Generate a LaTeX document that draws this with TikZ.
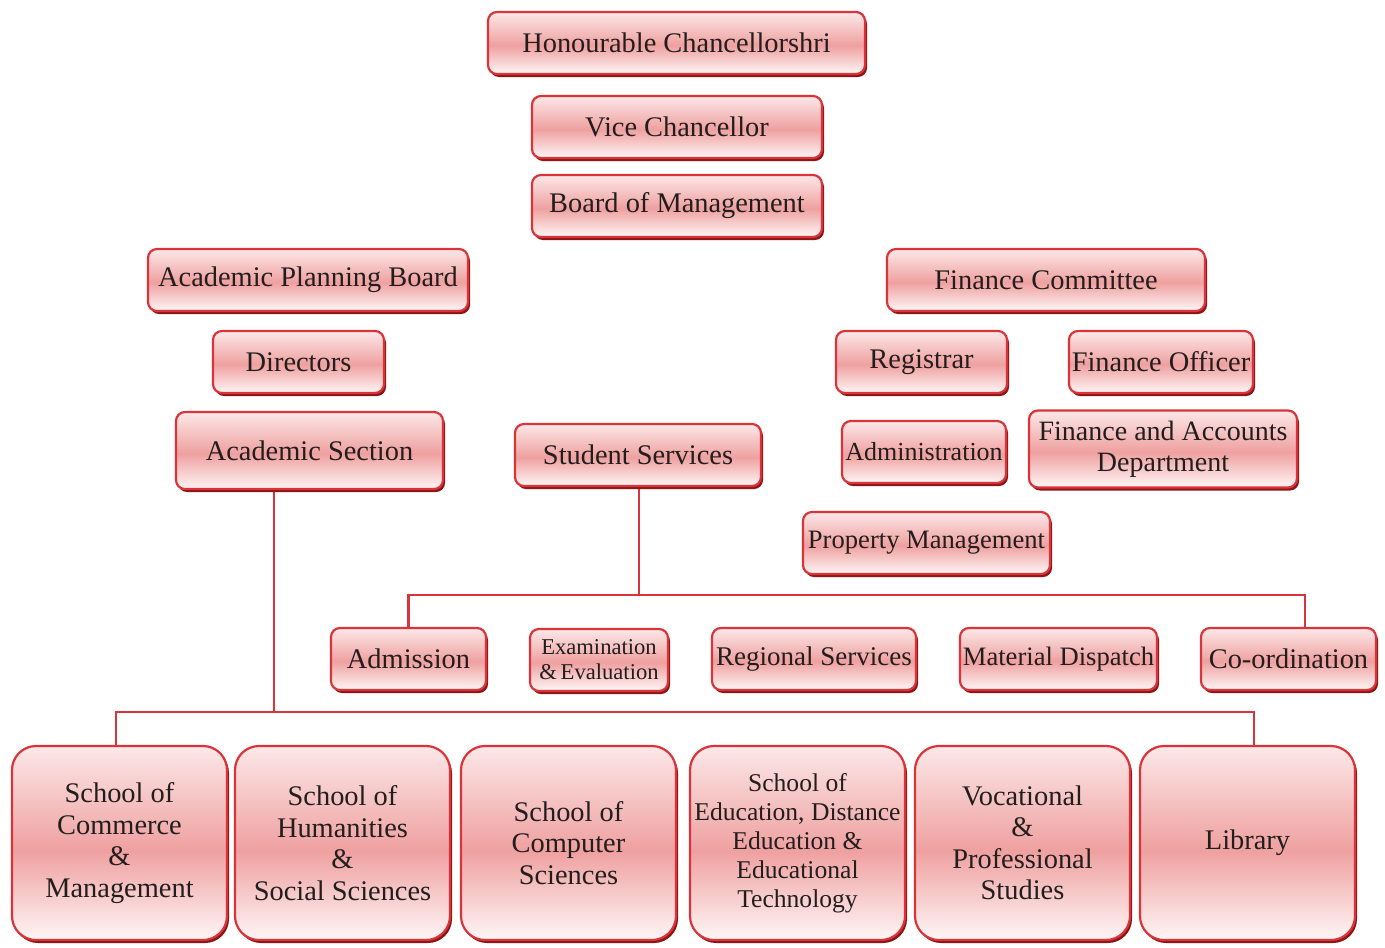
\documentclass[tikz,border=0pt]{standalone}
\usepackage{fontspec}
\setmainfont{Liberation Serif}
\usetikzlibrary{shadows,backgrounds}
\definecolor{boxred}{RGB}{218,52,58}
\definecolor{shadowred}{RGB}{140,22,22}
\definecolor{txt}{RGB}{35,30,30}
\definecolor{shbot}{RGB}{255,246,246}
\definecolor{shmid}{RGB}{239,160,160}
\definecolor{shtop}{RGB}{252,232,232}
\pgfdeclareverticalshading{boxshade}{100bp}{color(0bp)=(shbot); color(25bp)=(shbot); color(48bp)=(shmid); color(75bp)=(shtop); color(100bp)=(shtop)}
\tikzset{
  box/.style={draw=boxred, line width=2.2pt, rounded corners=9pt, shading=boxshade,
    drop shadow={shadow xshift=2pt, shadow yshift=-3pt, fill=shadowred, opacity=1},
    inner sep=0pt, align=center, text=txt, font=\fontsize{28.4}{31.5}\selectfont},
  bigbox/.style={box, rounded corners=24pt, minimum width=215pt, minimum height=194pt},
  conn/.style={draw=boxred, line width=2.4pt}
}
\begin{document}
\begin{tikzpicture}[x=1pt,y=-1pt]
\useasboundingbox (0,0) rectangle (1385,948);
\node[box, minimum width=377pt, minimum height=62pt] (hon) at (676.5,43) {Honourable Chancellorshri};
\node[box, minimum width=290pt, minimum height=62pt] (vc) at (677,127) {Vice Chancellor};
\node[box, minimum width=290pt, minimum height=62pt] (bom) at (677,206) {Board of Management};
\node[box, minimum width=320pt, minimum height=62pt] (apb) at (308,280) {Academic Planning Board};
\node[box, minimum width=318pt, minimum height=62pt] (fc) at (1046,280) {Finance Committee};
\node[box, minimum width=171pt, minimum height=62pt] (dir) at (298.5,362) {Directors};
\node[box, minimum width=171pt, minimum height=62pt] (reg) at (921.5,362) {Registrar};
\node[box, minimum width=184pt, minimum height=62pt] (fo) at (1161,362) {Finance Officer};
\node[box, minimum width=267pt, minimum height=77pt] (acs) at (309.5,450.5) {Academic Section};
\node[box, minimum width=246pt, minimum height=62pt] (ss) at (638,455) {Student Services};
\node[box, minimum width=164pt, minimum height=62pt, font=\fontsize{26}{30}\selectfont] (adm) at (924,452) {Administration};
\node[box, minimum width=268pt, minimum height=77pt, font=\fontsize{28}{31}\selectfont] (fad) at (1163,449) {Finance and Accounts\\Department};
\node[box, minimum width=247pt, minimum height=62pt, font=\fontsize{26.6}{30}\selectfont] (pm) at (926.5,543) {Property Management};
\node[box, minimum width=155pt, minimum height=62pt] (admission) at (408.5,659) {Admission};
\node[box, minimum width=138pt, minimum height=62pt, font=\fontsize{22.6}{25}\selectfont] (exam) at (599,660) {Examination\\\&\,Evaluation};
\node[box, minimum width=204pt, minimum height=62pt, font=\fontsize{27}{30}\selectfont] (rs) at (814,659) {Regional Services};
\node[box, minimum width=197pt, minimum height=62pt, font=\fontsize{26.6}{30}\selectfont] (md) at (1058.5,659) {Material Dispatch};
\node[box, minimum width=175pt, minimum height=62pt] (co) at (1288.5,659) {Co-ordination};
\node[bigbox] (com) at (119.5,843) {School of\\Commerce\\\&\\Management};
\node[bigbox] (hum) at (342.5,843) {School of\\Humanities\\\&\\Social Sciences};
\node[bigbox] (cs) at (568.5,843) {School of\\Computer\\Sciences};
\node[bigbox, font=\fontsize{25.6}{29}\selectfont] (edu) at (797.5,843) {School of\\Education, Distance\\Education \&\\Educational\\Technology};
\node[bigbox] (voc) at (1022.5,843) {Vocational\\\&\\Professional\\Studies};
\node[bigbox] (lib) at (1247.5,843) {Library};
\begin{scope}[on background layer]
  \coordinate (j1) at (639,595);
  \coordinate (j2) at (1305,595);
  \draw[conn] ([xshift=1pt]ss.south) -- ([xshift=1pt]ss.south |- j1);
  \draw[conn] (admission.north) -- (admission.north |- j1) -- (j2) -- ([xshift=16.5pt]co.north);
  \coordinate (k1) at (274,712);
  \coordinate (k2) at (1254,712);
  \draw[conn] ([xshift=-35.5pt]acs.south) -- (k1);
  \draw[conn] ([xshift=-3.5pt]com.north) -- ([xshift=-3.5pt]com.north |- k1) -- (k2) -- ([xshift=6.5pt]lib.north);
\end{scope}
\end{tikzpicture}
\end{document}
